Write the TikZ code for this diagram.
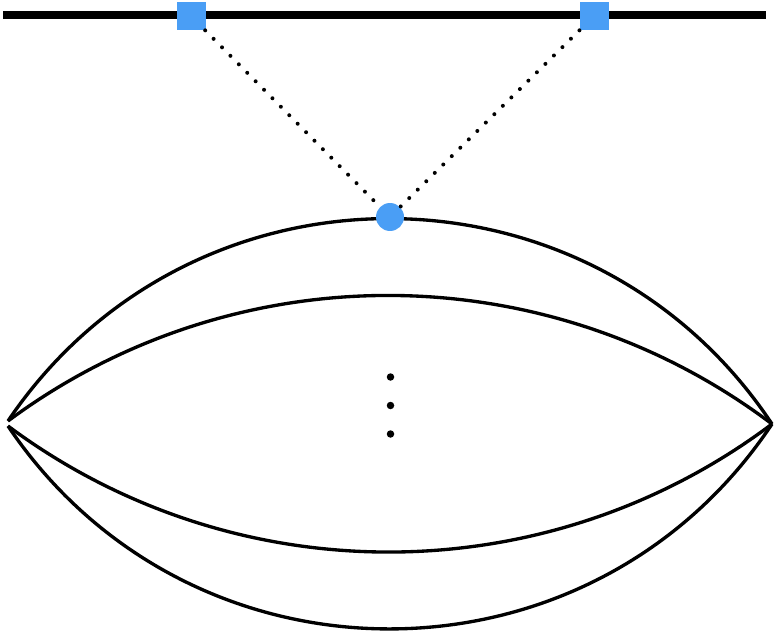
\documentclass[tikz,border=0pt]{standalone}
\usepackage{tikz}
\definecolor{nodeblue}{RGB}{74,158,245}
\begin{document}
\begin{tikzpicture}[x=0.02cm,y=-0.02cm,
  curve/.style={line width=1.9pt},
  railline/.style={line width=5.1pt},
  bluesq/.style={rectangle,fill=nodeblue,draw=none,minimum width=0.58cm,minimum height=0.56cm,inner sep=0pt},
  bluedot/.style={circle,fill=nodeblue,draw=none,minimum size=0.56cm,inner sep=0pt},
  dotline/.style={line width=2.27pt,line cap=round,dash pattern=on 0pt off 6.8pt},
  vdot/.style={circle,fill=black,draw=none,minimum size=0.15cm,inner sep=0pt}]
\useasboundingbox (0,0) rectangle (776,634);
% coordinates
\coordinate (tl) at (3,15);
\coordinate (tr) at (766,15);
\coordinate (L1) at (8,421);
\coordinate (L2) at (8,426);
\coordinate (R) at (772,424);
% top rail
\draw[railline] (tl) -- (tr);
% lens curves
\draw[curve] (L1) to[bend left=56.2,looseness=1.094] (R);
\draw[curve] (L1) to[bend left=36.8,looseness=0.9455] (R);
\draw[curve] (L2) to[bend right=36.8,looseness=0.9455] (R);
\draw[curve] (L2) to[bend right=56.2,looseness=1.094] (R);
% nodes
\node[bluesq] (s1) at (191,16) {};
\node[bluesq] (s2) at (594,16) {};
\node[bluedot] (c) at (390,217) {};
% dotted connectors
\draw[dotline] (s1) -- (c);
\draw[dotline] (s2) -- (c);
% vertical ellipsis
\node[vdot] (d1) at (390.5,377) {};
\node[vdot] (d2) at (390.5,405.5) {};
\node[vdot] (d3) at (390.5,434) {};
\end{tikzpicture}
\end{document}
